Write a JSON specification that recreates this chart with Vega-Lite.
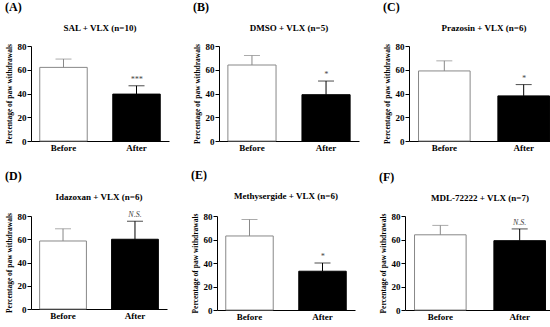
{
  "$schema": "https://vega.github.io/schema/vega-lite/v6.json",
  "background": "white",
  "padding": {"left": 5, "top": 1, "right": 2, "bottom": 0},
  "datasets": {
    "bars": [
      {"panel": "A", "cond": "Before", "mean": 62, "upper": 69, "sig": ""},
      {"panel": "A", "cond": "After", "mean": 39.5, "upper": 46.5, "sig": "***"},
      {"panel": "B", "cond": "Before", "mean": 64, "upper": 72, "sig": ""},
      {"panel": "B", "cond": "After", "mean": 39, "upper": 50.5, "sig": "*"},
      {"panel": "C", "cond": "Before", "mean": 59, "upper": 67.5, "sig": ""},
      {"panel": "C", "cond": "After", "mean": 38, "upper": 47.5, "sig": "*"},
      {"panel": "D", "cond": "Before", "mean": 58.5, "upper": 69, "sig": ""},
      {"panel": "D", "cond": "After", "mean": 60, "upper": 75.5, "sig": "N.S."},
      {"panel": "E", "cond": "Before", "mean": 63, "upper": 77, "sig": ""},
      {"panel": "E", "cond": "After", "mean": 33, "upper": 40, "sig": "*"},
      {"panel": "F", "cond": "Before", "mean": 64, "upper": 72, "sig": ""},
      {"panel": "F", "cond": "After", "mean": 59, "upper": 69, "sig": "N.S."}
    ]
  },
  "data": {"name": "bars"},
  "config": {
    "font": "Liberation Serif",
    "view": {"stroke": null},
    "concat": {"spacing": 22},
    "axis": {
      "grid": false,
      "domainColor": "black",
      "tickColor": "black",
      "labelColor": "black",
      "titleColor": "black",
      "labelFont": "Liberation Serif",
      "titleFont": "Liberation Serif",
      "labelFontWeight": "bold",
      "titleFontWeight": "bold",
      "labelFontSize": 9,
      "titleFontSize": 7.5,
      "labelOverlap": false
    },
    "axisY": {"values": [0, 20, 40, 60, 80], "tickSize": 4, "labelPadding": 1, "title": "Percentage of paw withdrawals"},
    "title": {"font": "Liberation Serif", "color": "black", "fontWeight": "bold"}
  },
  "spacing": 16,
  "vconcat": [
    {
      "spacing": 24,
      "hconcat": [
        {
          "title": {"text": "(A)", "anchor": "start", "frame": "bounds", "fontSize": 12, "offset": 10},
          "vconcat": [
            {
              "title": {"text": "SAL + VLX (n=10)", "fontSize": 9, "offset": 9},
              "width": 138, "height": 95,
              "transform": [{"filter": "datum.panel === 'A'"}],
              "encoding": {
                "x": {"field": "cond", "type": "nominal", "sort": ["Before", "After"], "title": null,
                      "scale": {"paddingInner": 0.35, "paddingOuter": 0.12},
                      "axis": {"labelAngle": 0, "ticks": false, "labelPadding": 2}}
              },
              "layer": [
                {"mark": {"type": "bar", "strokeWidth": 1},
                 "encoding": {
                   "y": {"field": "mean", "type": "quantitative", "scale": {"domain": [0, 80]}, "title": "Percentage of paw withdrawals"},
                   "fill": {"field": "cond", "type": "nominal", "scale": {"domain": ["Before", "After"], "range": ["white", "black"]}, "legend": null},
                   "stroke": {"field": "cond", "type": "nominal", "scale": {"domain": ["Before", "After"], "range": ["#888888", "black"]}, "legend": null}
                 }},
                {"mark": {"type": "rule", "strokeWidth": 1},
                 "encoding": {"y": {"field": "mean", "type": "quantitative", "title": "Percentage of paw withdrawals"}, "y2": {"field": "upper"},
                   "stroke": {"field": "cond", "type": "nominal", "legend": null}}},
                {"mark": {"type": "tick", "size": 16, "thickness": 1},
                 "encoding": {"y": {"field": "upper", "type": "quantitative", "title": "Percentage of paw withdrawals"},
                   "color": {"field": "cond", "type": "nominal", "scale": {"domain": ["Before", "After"], "range": ["#888888", "black"]}, "legend": null}}},
                {"mark": {"type": "text", "dy": -6, "fontSize": 8, "fontStyle": "italic", "color": "#444444"},
                 "encoding": {"y": {"field": "upper", "type": "quantitative", "title": "Percentage of paw withdrawals"}, "text": {"field": "sig"}}}
              ]
            }
          ]
        },
        {
          "title": {"text": "(B)", "anchor": "start", "frame": "bounds", "fontSize": 12, "offset": 10},
          "vconcat": [
            {
              "title": {"text": "DMSO + VLX (n=5)", "fontSize": 9, "offset": 9},
              "width": 140, "height": 95,
              "transform": [{"filter": "datum.panel === 'B'"}],
              "encoding": {
                "x": {"field": "cond", "type": "nominal", "sort": ["Before", "After"], "title": null,
                      "scale": {"paddingInner": 0.35, "paddingOuter": 0.12},
                      "axis": {"labelAngle": 0, "ticks": false, "labelPadding": 2}}
              },
              "layer": [
                {"mark": {"type": "bar", "strokeWidth": 1},
                 "encoding": {
                   "y": {"field": "mean", "type": "quantitative", "scale": {"domain": [0, 80]}, "title": "Percentage of paw withdrawals"},
                   "fill": {"field": "cond", "type": "nominal", "scale": {"domain": ["Before", "After"], "range": ["white", "black"]}, "legend": null},
                   "stroke": {"field": "cond", "type": "nominal", "scale": {"domain": ["Before", "After"], "range": ["#888888", "black"]}, "legend": null}
                 }},
                {"mark": {"type": "rule", "strokeWidth": 1},
                 "encoding": {"y": {"field": "mean", "type": "quantitative", "title": "Percentage of paw withdrawals"}, "y2": {"field": "upper"},
                   "stroke": {"field": "cond", "type": "nominal", "legend": null}}},
                {"mark": {"type": "tick", "size": 16, "thickness": 1},
                 "encoding": {"y": {"field": "upper", "type": "quantitative", "title": "Percentage of paw withdrawals"},
                   "color": {"field": "cond", "type": "nominal", "scale": {"domain": ["Before", "After"], "range": ["#888888", "black"]}, "legend": null}}},
                {"mark": {"type": "text", "dy": -6, "fontSize": 8, "fontStyle": "italic", "color": "#444444"},
                 "encoding": {"y": {"field": "upper", "type": "quantitative", "title": "Percentage of paw withdrawals"}, "text": {"field": "sig"}}}
              ]
            }
          ]
        },
        {
          "title": {"text": "(C)", "anchor": "start", "frame": "bounds", "fontSize": 12, "offset": 10},
          "vconcat": [
            {
              "title": {"text": "Prazosin + VLX (n=6)", "fontSize": 9, "offset": 9},
              "width": 150, "height": 95,
              "transform": [{"filter": "datum.panel === 'C'"}],
              "encoding": {
                "x": {"field": "cond", "type": "nominal", "sort": ["Before", "After"], "title": null,
                      "scale": {"paddingInner": 0.35, "paddingOuter": 0.12},
                      "axis": {"labelAngle": 0, "ticks": false, "labelPadding": 2}}
              },
              "layer": [
                {"mark": {"type": "bar", "strokeWidth": 1},
                 "encoding": {
                   "y": {"field": "mean", "type": "quantitative", "scale": {"domain": [0, 80]}, "title": "Percentage of paw withdrawals"},
                   "fill": {"field": "cond", "type": "nominal", "scale": {"domain": ["Before", "After"], "range": ["white", "black"]}, "legend": null},
                   "stroke": {"field": "cond", "type": "nominal", "scale": {"domain": ["Before", "After"], "range": ["#888888", "black"]}, "legend": null}
                 }},
                {"mark": {"type": "rule", "strokeWidth": 1},
                 "encoding": {"y": {"field": "mean", "type": "quantitative", "title": "Percentage of paw withdrawals"}, "y2": {"field": "upper"},
                   "stroke": {"field": "cond", "type": "nominal", "legend": null}}},
                {"mark": {"type": "tick", "size": 16, "thickness": 1},
                 "encoding": {"y": {"field": "upper", "type": "quantitative", "title": "Percentage of paw withdrawals"},
                   "color": {"field": "cond", "type": "nominal", "scale": {"domain": ["Before", "After"], "range": ["#888888", "black"]}, "legend": null}}},
                {"mark": {"type": "text", "dy": -6, "fontSize": 8, "fontStyle": "italic", "color": "#444444"},
                 "encoding": {"y": {"field": "upper", "type": "quantitative", "title": "Percentage of paw withdrawals"}, "text": {"field": "sig"}}}
              ]
            }
          ]
        }
      ]
    },
    {
      "spacing": 24,
      "hconcat": [
        {
          "title": {"text": "(D)", "anchor": "start", "frame": "bounds", "fontSize": 12, "offset": 10},
          "vconcat": [
            {
              "title": {"text": "Idazoxan + VLX (n=6)", "fontSize": 9, "offset": 9},
              "width": 136, "height": 93,
              "transform": [{"filter": "datum.panel === 'D'"}],
              "encoding": {
                "x": {"field": "cond", "type": "nominal", "sort": ["Before", "After"], "title": null,
                      "scale": {"paddingInner": 0.35, "paddingOuter": 0.12},
                      "axis": {"labelAngle": 0, "ticks": false, "labelPadding": 2}}
              },
              "layer": [
                {"mark": {"type": "bar", "strokeWidth": 1},
                 "encoding": {
                   "y": {"field": "mean", "type": "quantitative", "scale": {"domain": [0, 80]}, "title": "Percentage of paw withdrawals"},
                   "fill": {"field": "cond", "type": "nominal", "scale": {"domain": ["Before", "After"], "range": ["white", "black"]}, "legend": null},
                   "stroke": {"field": "cond", "type": "nominal", "scale": {"domain": ["Before", "After"], "range": ["#888888", "black"]}, "legend": null}
                 }},
                {"mark": {"type": "rule", "strokeWidth": 1},
                 "encoding": {"y": {"field": "mean", "type": "quantitative", "title": "Percentage of paw withdrawals"}, "y2": {"field": "upper"},
                   "stroke": {"field": "cond", "type": "nominal", "legend": null}}},
                {"mark": {"type": "tick", "size": 16, "thickness": 1},
                 "encoding": {"y": {"field": "upper", "type": "quantitative", "title": "Percentage of paw withdrawals"},
                   "color": {"field": "cond", "type": "nominal", "scale": {"domain": ["Before", "After"], "range": ["#888888", "black"]}, "legend": null}}},
                {"mark": {"type": "text", "dy": -6, "fontSize": 8, "fontStyle": "italic", "color": "#444444"},
                 "encoding": {"y": {"field": "upper", "type": "quantitative", "title": "Percentage of paw withdrawals"}, "text": {"field": "sig"}}}
              ]
            }
          ]
        },
        {
          "title": {"text": "(E)", "anchor": "start", "frame": "bounds", "fontSize": 12, "offset": 10},
          "vconcat": [
            {
              "title": {"text": "Methysergide + VLX (n=6)", "fontSize": 9, "offset": 9},
              "width": 138, "height": 94,
              "transform": [{"filter": "datum.panel === 'E'"}],
              "encoding": {
                "x": {"field": "cond", "type": "nominal", "sort": ["Before", "After"], "title": null,
                      "scale": {"paddingInner": 0.35, "paddingOuter": 0.12},
                      "axis": {"labelAngle": 0, "ticks": false, "labelPadding": 2}}
              },
              "layer": [
                {"mark": {"type": "bar", "strokeWidth": 1},
                 "encoding": {
                   "y": {"field": "mean", "type": "quantitative", "scale": {"domain": [0, 80]}, "title": "Percentage of paw withdrawals"},
                   "fill": {"field": "cond", "type": "nominal", "scale": {"domain": ["Before", "After"], "range": ["white", "black"]}, "legend": null},
                   "stroke": {"field": "cond", "type": "nominal", "scale": {"domain": ["Before", "After"], "range": ["#888888", "black"]}, "legend": null}
                 }},
                {"mark": {"type": "rule", "strokeWidth": 1},
                 "encoding": {"y": {"field": "mean", "type": "quantitative", "title": "Percentage of paw withdrawals"}, "y2": {"field": "upper"},
                   "stroke": {"field": "cond", "type": "nominal", "legend": null}}},
                {"mark": {"type": "tick", "size": 16, "thickness": 1},
                 "encoding": {"y": {"field": "upper", "type": "quantitative", "title": "Percentage of paw withdrawals"},
                   "color": {"field": "cond", "type": "nominal", "scale": {"domain": ["Before", "After"], "range": ["#888888", "black"]}, "legend": null}}},
                {"mark": {"type": "text", "dy": -6, "fontSize": 8, "fontStyle": "italic", "color": "#444444"},
                 "encoding": {"y": {"field": "upper", "type": "quantitative", "title": "Percentage of paw withdrawals"}, "text": {"field": "sig"}}}
              ]
            }
          ]
        },
        {
          "title": {"text": "(F)", "anchor": "start", "frame": "bounds", "fontSize": 12, "offset": 10},
          "vconcat": [
            {
              "title": {"text": "MDL-72222 + VLX (n=7)", "fontSize": 9, "offset": 9},
              "width": 150, "height": 94,
              "transform": [{"filter": "datum.panel === 'F'"}],
              "encoding": {
                "x": {"field": "cond", "type": "nominal", "sort": ["Before", "After"], "title": null,
                      "scale": {"paddingInner": 0.35, "paddingOuter": 0.12},
                      "axis": {"labelAngle": 0, "ticks": false, "labelPadding": 2}}
              },
              "layer": [
                {"mark": {"type": "bar", "strokeWidth": 1},
                 "encoding": {
                   "y": {"field": "mean", "type": "quantitative", "scale": {"domain": [0, 80]}, "title": "Percentage of paw withdrawals"},
                   "fill": {"field": "cond", "type": "nominal", "scale": {"domain": ["Before", "After"], "range": ["white", "black"]}, "legend": null},
                   "stroke": {"field": "cond", "type": "nominal", "scale": {"domain": ["Before", "After"], "range": ["#888888", "black"]}, "legend": null}
                 }},
                {"mark": {"type": "rule", "strokeWidth": 1},
                 "encoding": {"y": {"field": "mean", "type": "quantitative", "title": "Percentage of paw withdrawals"}, "y2": {"field": "upper"},
                   "stroke": {"field": "cond", "type": "nominal", "legend": null}}},
                {"mark": {"type": "tick", "size": 16, "thickness": 1},
                 "encoding": {"y": {"field": "upper", "type": "quantitative", "title": "Percentage of paw withdrawals"},
                   "color": {"field": "cond", "type": "nominal", "scale": {"domain": ["Before", "After"], "range": ["#888888", "black"]}, "legend": null}}},
                {"mark": {"type": "text", "dy": -6, "fontSize": 8, "fontStyle": "italic", "color": "#444444"},
                 "encoding": {"y": {"field": "upper", "type": "quantitative", "title": "Percentage of paw withdrawals"}, "text": {"field": "sig"}}}
              ]
            }
          ]
        }
      ]
    }
  ]
}
